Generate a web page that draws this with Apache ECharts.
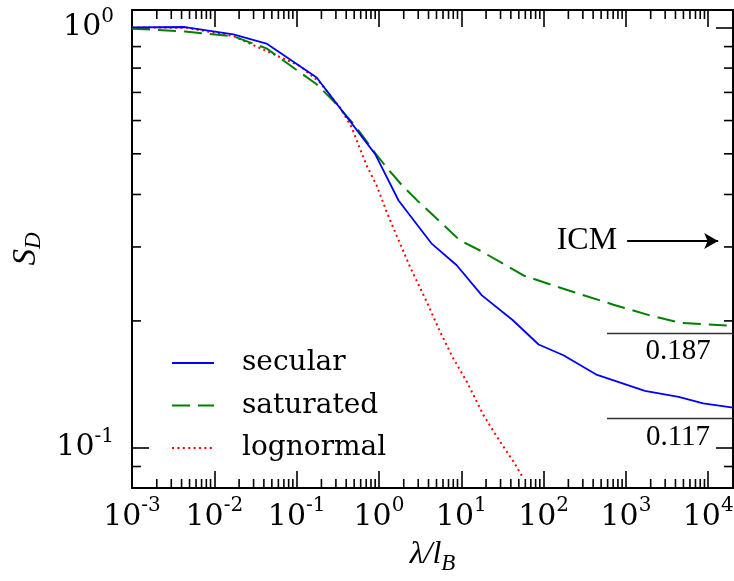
<!DOCTYPE html>
<html>
<head>
<meta charset="utf-8">
<script src="https://cdn.jsdelivr.net/npm/echarts@6.0.0/dist/echarts.min.js"></script>
<style>
  html, body { margin: 0; padding: 0; background: #fff; }
  #chart { width: 734px; height: 581px; }
</style>
</head>
<body>
<div id="chart"></div>
<script>
// values (x = lambda / l_B, y = S_D)
const secularX = [0.001, 0.0044, 0.017, 0.043, 0.175, 0.9, 1.73, 4.4, 8.8, 17.8, 42, 87, 174, 447, 1700, 4370, 8700, 20000];
const secularY = [1.0, 1.002, 0.962, 0.915, 0.7595, 0.499, 0.387, 0.305, 0.2714, 0.230, 0.201, 0.1757, 0.1657, 0.1487, 0.1362, 0.1319, 0.1272, 0.1243];

const saturatedX = [0.001, 0.0044, 0.017, 0.043, 0.175, 0.28, 0.513, 0.9, 1.26, 1.89, 2.93, 4.58, 7.17, 9.66, 16.9, 56.9, 174, 705, 1970, 4570, 20000];
const saturatedY = [0.993, 0.978, 0.952, 0.891, 0.732, 0.668, 0.583, 0.502, 0.462, 0.4215, 0.3867, 0.3565, 0.3283, 0.3108, 0.2942, 0.2566, 0.2385, 0.2186, 0.206, 0.198, 0.1946];

const lognormalX = [0.001, 0.0046, 0.017, 0.0475, 0.11, 0.192, 0.336, 0.468, 0.589, 0.711, 0.94, 1.245, 1.64, 2.39, 3.81, 5.53, 8.02, 11.7, 18.6, 29.6, 43, 56.8];
const lognormalY = [1.0, 0.998, 0.9535, 0.8707, 0.809, 0.739, 0.6446, 0.5776, 0.5132, 0.4684, 0.4198, 0.363, 0.3193, 0.2687, 0.2219, 0.1883, 0.1627, 0.1432, 0.1193, 0.1031, 0.0925, 0.0844];

const seriesNames = ['secular', 'saturated', 'lognormal'];
const seriesColors = ['#0000ff', '#008000', '#ff0000'];

// major ticks (decades)
const xMajor = [0.001, 0.01, 0.1, 1, 10, 100, 1000, 10000];
const yMajor = [0.1, 1];

// asymptotic levels and ICM arrow
const levelValues = [0.187, 0.117];
const levelFromX = 590;
const icmY = 0.31;
const icmX = [1035, 13200];

const xMin = 0.001, xMax = 20000;
const yMin = 0.08, yMax = 1.1;

const serif = 'DejaVu Serif';
const texFont = 'Liberation Serif';

function zip(xs, ys) {
    return xs.map((x, i) => [x, ys[i]]);
}

function powLabel(v) {
    const lg = Math.log10(v);
    const e = Math.round(lg);
    if (Math.abs(lg - e) > 1e-6) return '';
    return '{b|10}{s|' + e + '}';
}

const labelRich = {
    b: { fontFamily: serif, fontSize: 30, color: '#000', lineHeight: 36, verticalAlign: 'bottom' },
    s: { fontFamily: serif, fontSize: 20, color: '#000', lineHeight: 16, verticalAlign: 'top' }
};

function logAxis(pos, min, max, majors, showLabel, margin) {
    return {
        type: 'log',
        logBase: 10,
        position: pos,
        min: min,
        max: max,
        axisLine: { show: true, lineStyle: { color: '#000', width: 2 } },
        axisTick: { show: true, inside: true, length: 17, customValues: majors, lineStyle: { color: '#000', width: 1.6 } },
        axisLabel: { show: showLabel, margin: margin, customValues: majors, formatter: powLabel, rich: labelRich },
        splitLine: { show: false },
        minorTick: { show: false }
    };
}

const chart = echarts.init(document.getElementById('chart'));

const xBottom = logAxis('bottom', xMin, xMax, xMajor, true, 8);
xBottom.name = '{i|λ/l}{sub|B}';
xBottom.nameLocation = 'middle';
xBottom.nameGap = 51;
xBottom.nameTextStyle = {
    rich: {
        i: { fontFamily: texFont, fontStyle: 'italic', fontSize: 32, color: '#000', lineHeight: 36, verticalAlign: 'top' },
        sub: { fontFamily: texFont, fontStyle: 'italic', fontSize: 23, color: '#000', lineHeight: 26, verticalAlign: 'bottom' }
    }
};

const yLeft = logAxis('left', yMin, yMax, yMajor, true, 18);
yLeft.axisLabel.padding = [0, 0, 6, 0];
yLeft.name = '{i|S}{sub|D}';
yLeft.nameLocation = 'middle';
yLeft.nameGap = 77;
yLeft.nameTextStyle = {
    rich: {
        i: { fontFamily: texFont, fontStyle: 'italic', fontSize: 33, color: '#000', lineHeight: 36, verticalAlign: 'top' },
        sub: { fontFamily: texFont, fontStyle: 'italic', fontSize: 23, color: '#000', lineHeight: 28, verticalAlign: 'bottom' }
    }
};

const dashTypes = ['solid', [18, 8], [2, 3.4]];
const dataSets = [zip(secularX, secularY), zip(saturatedX, saturatedY), zip(lognormalX, lognormalY)];

const series = seriesNames.map((name, i) => ({
    name: name,
    type: 'line',
    data: dataSets[i],
    showSymbol: false,
    symbol: 'none',
    smooth: false,
    color: seriesColors[i],
    lineStyle: { color: seriesColors[i], width: i === 0 ? 1.8 : 2, type: dashTypes[i] },
    z: 3 - i
}));

series.push({
    name: 'notes',
    type: 'line',
    data: [],
    silent: true,
    markLine: {
        silent: true,
        animation: false,
        symbol: ['none', 'none'],
        data: levelValues.map(v => [
            {
                coord: [levelFromX, v],
                lineStyle: { color: '#333', width: 1.4, type: 'solid' },
                label: {
                    show: true, formatter: String(v), position: 'insideMiddleBottom', distance: 4,
                    offset: [8, 0], color: '#000', fontFamily: texFont, fontSize: 29
                }
            },
            { coord: [xMax, v] }
        ]).concat([[
            {
                coord: [icmX[0], icmY],
                symbol: 'none',
                lineStyle: { color: '#000', width: 1.8, type: 'solid' },
                label: {
                    show: true, formatter: 'ICM', position: 'start', distance: 10,
                    color: '#000', fontFamily: texFont, fontSize: 32
                }
            },
            { coord: [icmX[1], icmY], symbol: 'arrow', symbolSize: [12, 14], symbolRotate: -90 }
        ]])
    }
});

chart.setOption({
    animation: false,
    backgroundColor: '#fff',
    grid: { left: 132, right: 1, top: 10, bottom: 93, outerBoundsMode: 'none', containLabel: false },
    legend: {
        orient: 'vertical',
        left: 166,
        top: 342,
        itemWidth: 42,
        itemHeight: 2,
        itemGap: 10.5,
        data: seriesNames,
        itemStyle: { opacity: 0 },
        textStyle: { fontFamily: serif, fontSize: 28, color: '#000', lineHeight: 32, padding: [0, 0, 0, 23] }
    },
    xAxis: [xBottom, logAxis('top', xMin, xMax, xMajor, false, 8)],
    yAxis: [yLeft, logAxis('right', yMin, yMax, yMajor, false, 18)],
    series: series
});

// matplotlib-style minor ticks (2..9 per decade) on all four sides
function minorValues(min, max) {
    const out = [];
    for (let k = -4; k <= 5; k++) {
        for (let m = 2; m <= 9; m++) {
            const v = m * Math.pow(10, k);
            if (v > min * 1.0001 && v < max * 0.9999) out.push(v);
        }
    }
    return out;
}

const pxLeft = chart.convertToPixel({ xAxisIndex: 0 }, xMin);
const pxRight = chart.convertToPixel({ xAxisIndex: 0 }, xMax);
const pxBottom = chart.convertToPixel({ yAxisIndex: 0 }, yMin);
const pxTop = chart.convertToPixel({ yAxisIndex: 0 }, yMax);
const minorLen = 9;
const tickStyle = { stroke: '#000', lineWidth: 1.6 };
const graphics = [];

minorValues(xMin, xMax).forEach(v => {
    const px = chart.convertToPixel({ xAxisIndex: 0 }, v);
    graphics.push({ type: 'line', shape: { x1: px, y1: pxBottom, x2: px, y2: pxBottom - minorLen }, style: tickStyle, silent: true });
    graphics.push({ type: 'line', shape: { x1: px, y1: pxTop, x2: px, y2: pxTop + minorLen }, style: tickStyle, silent: true });
});
minorValues(yMin, yMax).forEach(v => {
    const py = chart.convertToPixel({ yAxisIndex: 0 }, v);
    graphics.push({ type: 'line', shape: { x1: pxLeft, y1: py, x2: pxLeft + minorLen, y2: py }, style: tickStyle, silent: true });
    graphics.push({ type: 'line', shape: { x1: pxRight, y1: py, x2: pxRight - minorLen, y2: py }, style: tickStyle, silent: true });
});

chart.setOption({ graphic: graphics });
</script>
</body>
</html>
